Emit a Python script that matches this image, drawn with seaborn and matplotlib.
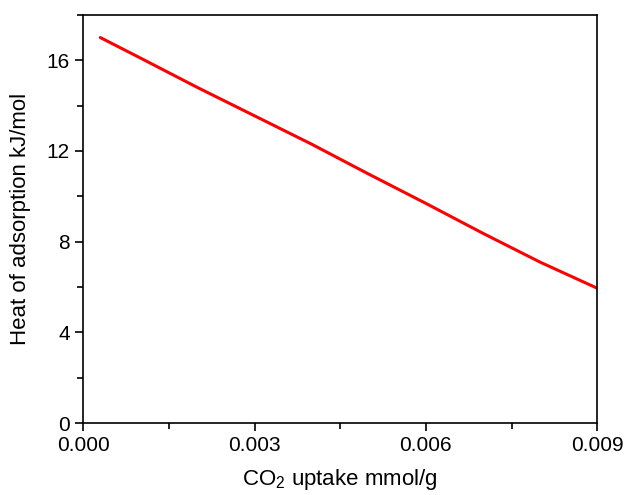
import matplotlib
matplotlib.use("Agg")
import matplotlib.pyplot as plt
from matplotlib.ticker import MultipleLocator, FormatStrFormatter
import seaborn as sns
import pandas as pd

# CO2 uptake (mmol/g) and isosteric heat of adsorption (kJ/mol)
uptake = [0.0003, 0.001, 0.002, 0.003, 0.004, 0.005, 0.006, 0.007, 0.008, 0.009]
heat = [17.0, 16.1, 14.8, 13.55, 12.3, 10.98, 9.69, 8.37, 7.1, 5.95]

df = pd.DataFrame({"uptake": uptake, "heat": heat})

sns.set_style("ticks")
plt.rcParams["font.family"] = ["Liberation Sans", "DejaVu Sans"]
plt.rcParams["mathtext.default"] = "regular"
plt.rcParams["text.color"] = "black"
plt.rcParams["axes.labelcolor"] = "black"
plt.rcParams["xtick.color"] = "black"
plt.rcParams["ytick.color"] = "black"

fig = plt.figure(figsize=(6.3, 4.95), dpi=100)
ax = fig.add_axes([0.132, 0.145, 0.816, 0.825])

sns.lineplot(data=df, x="uptake", y="heat", ax=ax, color="#ff0000",
             linewidth=2.2, sort=False)

ax.set_xlim(0, 0.009)
ax.set_ylim(0, 18)
ax.xaxis.set_major_locator(MultipleLocator(0.003))
ax.xaxis.set_minor_locator(MultipleLocator(0.0015))
ax.yaxis.set_major_locator(MultipleLocator(4))
ax.yaxis.set_minor_locator(MultipleLocator(2))
ax.xaxis.set_major_formatter(FormatStrFormatter("%.3f"))

for side in ["left", "bottom", "right", "top"]:
    ax.spines[side].set_visible(True)
    ax.spines[side].set_color("black")
    ax.spines[side].set_linewidth(1.2)

ax.tick_params(which="major", direction="out", length=6, width=1.2,
               labelsize=15, colors="black", top=False, right=False)
ax.tick_params(which="minor", direction="out", length=4, width=1.2,
               colors="black", top=False, right=False)

ax.set_xlabel("CO$_2$ uptake mmol/g", fontsize=16, labelpad=8, color="black")
ax.set_ylabel("Heat of adsorption kJ/mol", fontsize=16, labelpad=11, color="black")

fig.savefig("out.png", dpi=100)
